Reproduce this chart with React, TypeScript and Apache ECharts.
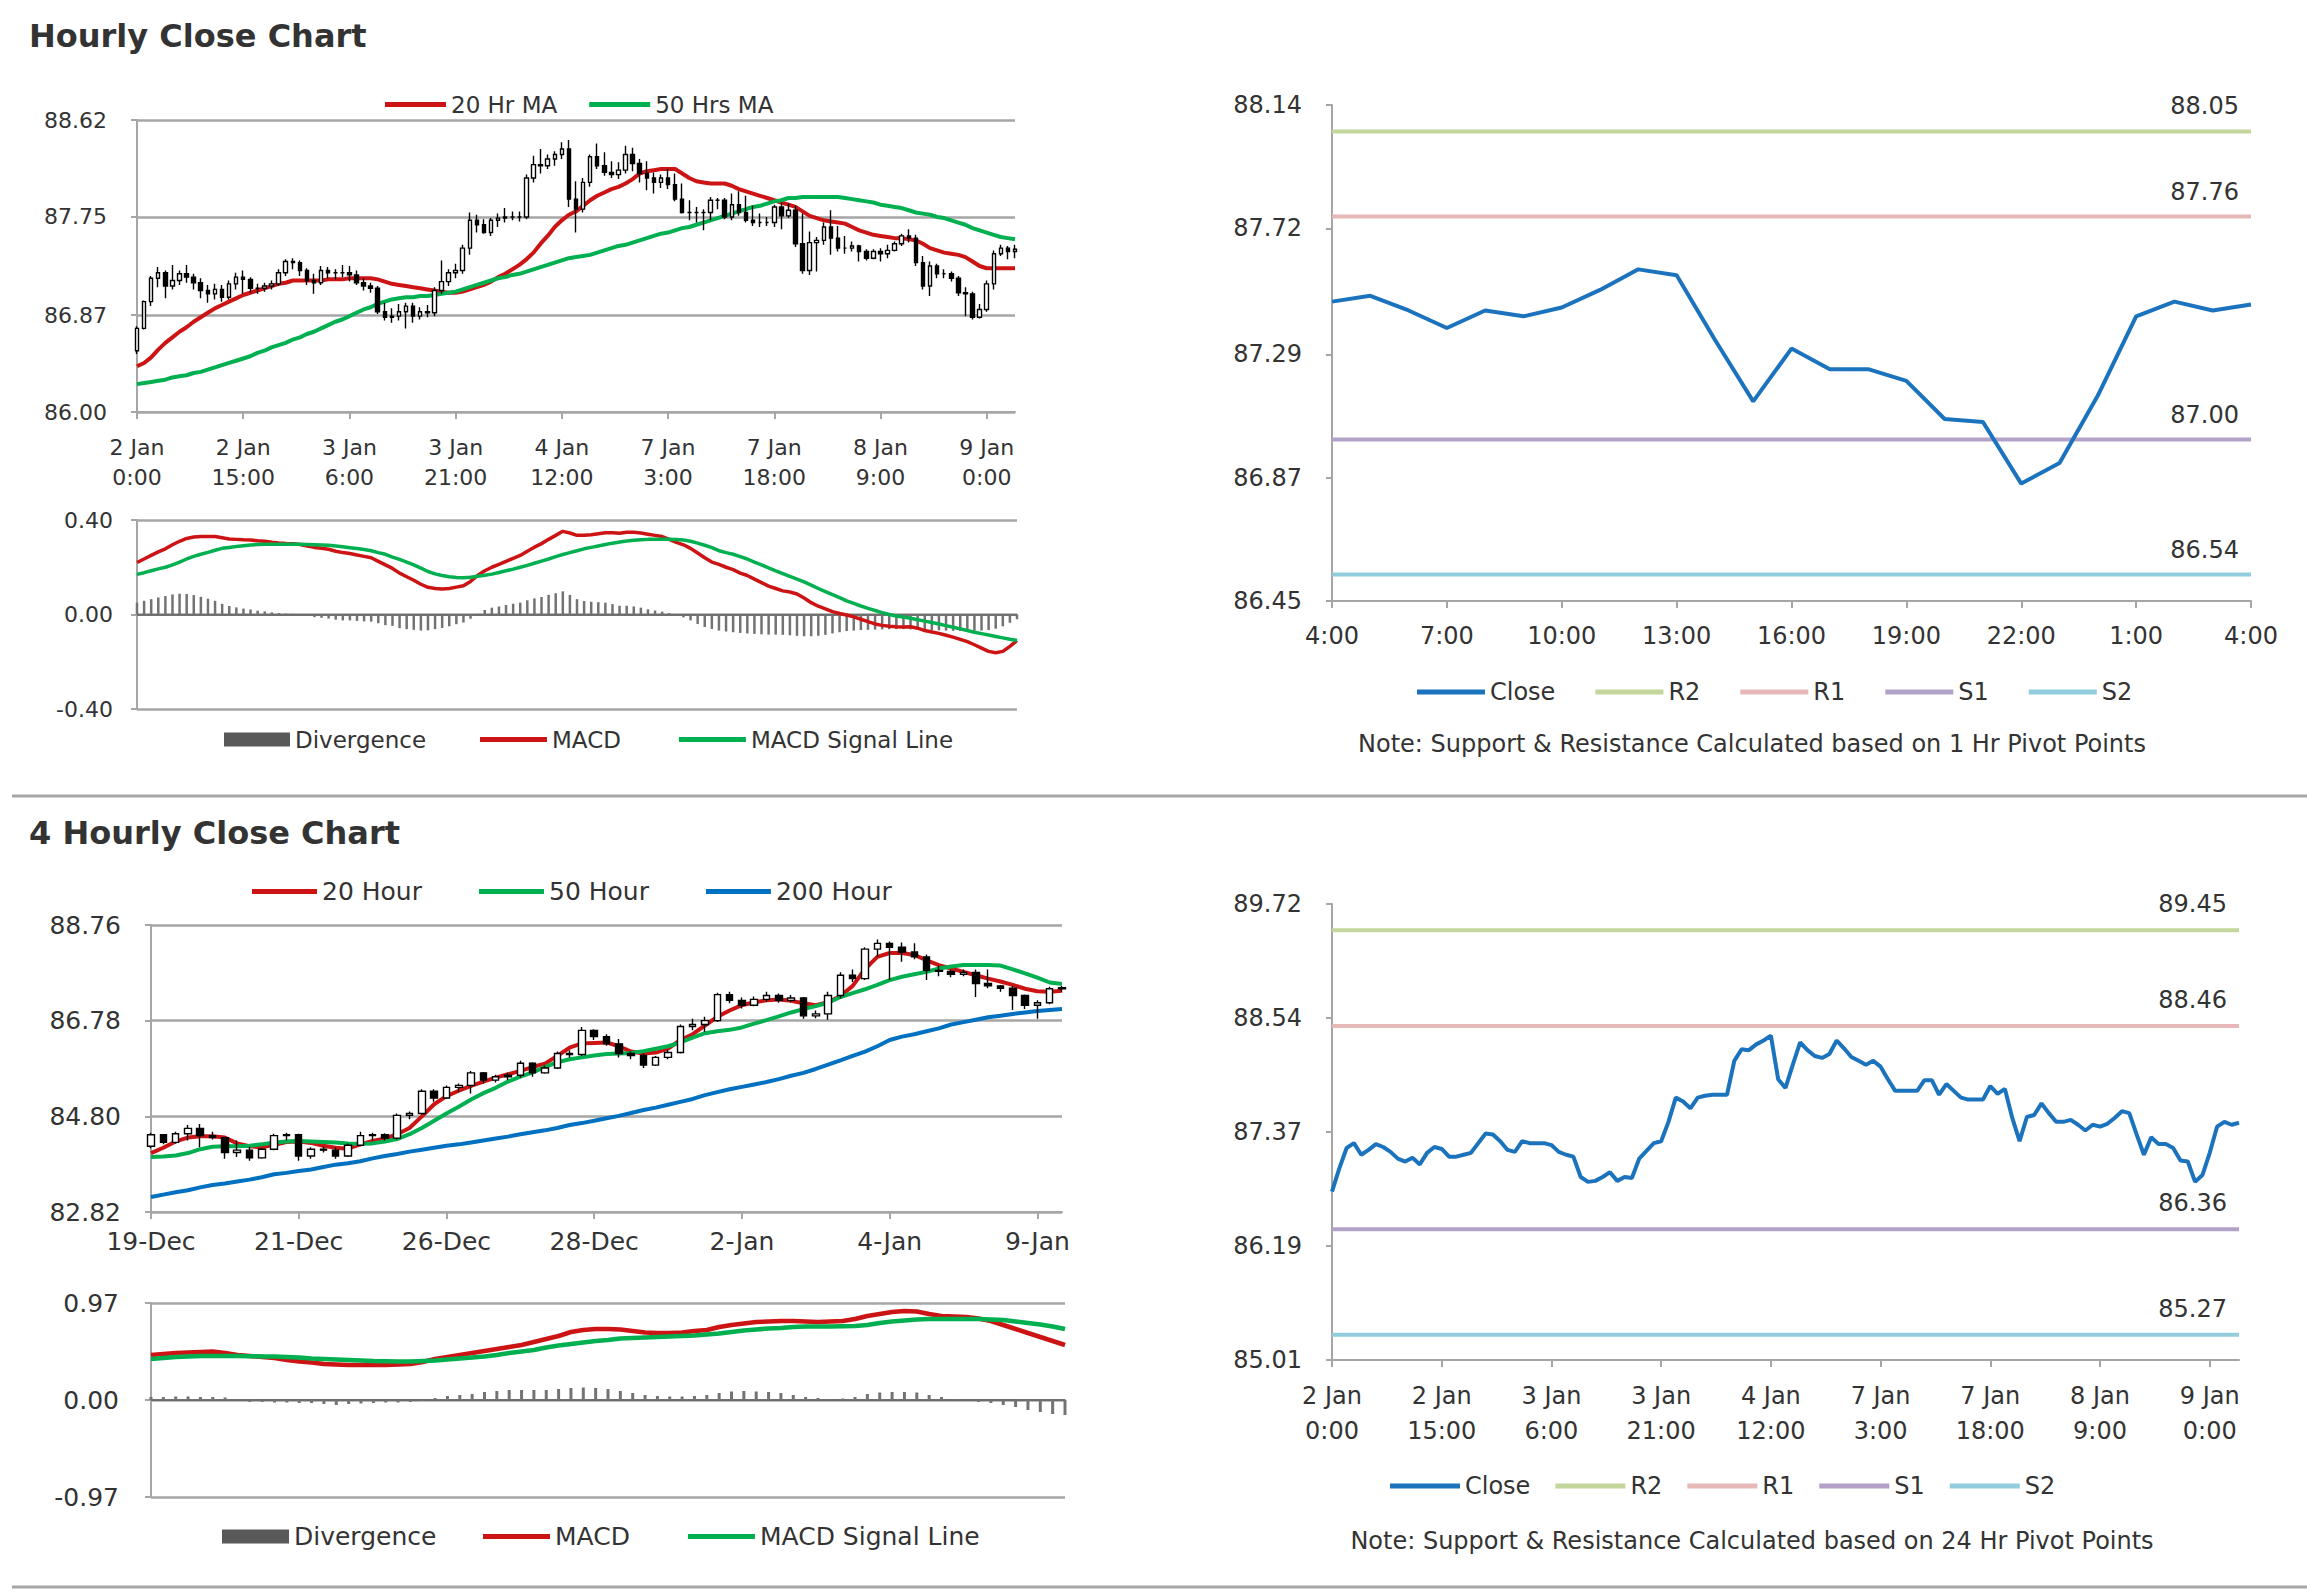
import React, { useEffect, useRef } from 'react';
import * as echarts from 'echarts';

const FONT = 'DejaVu Sans';
const TEXT = '#333333';
const GRID = '#a6a6a6';
const RED = '#cc1414';
const GREEN = '#00b050';
const BLUE = '#0070c0';
const CLOSE_BLUE = '#1c73bd';
const DIV_GRAY = '#737373';
const LEVEL_COLORS: Record<string, string> = { R2: '#c3d69b', R1: '#e6b9b8', S1: '#b3a2c7', S2: '#93cddd' };

// ---------------- Hourly data: 2 Jan 0:00 -> 9 Jan 4:00 ----------------
const hourlyDays = ['2 Jan', '3 Jan', '4 Jan', '7 Jan', '8 Jan', '9 Jan'];
const hourlyTickEvery = 15;

const hourlyOpen = [
  86.55, 86.75, 86.99, 87.20, 87.25, 87.13, 87.18, 87.24, 87.21, 87.16,
  87.09, 87.06, 87.10, 87.03, 87.15, 87.21, 87.19, 87.11, 87.11, 87.13,
  87.15, 87.25, 87.35, 87.34, 87.27, 87.18, 87.16, 87.27, 87.25, 87.25,
  87.25, 87.23, 87.16, 87.13, 87.11, 86.90, 86.85, 86.86, 86.90, 86.95,
  86.86, 86.90, 86.89, 87.09, 87.17, 87.25, 87.27, 87.47, 87.72, 87.68,
  87.61, 87.72, 87.74, 87.75, 87.75, 87.75, 88.10, 88.22, 88.21, 88.27,
  88.31, 88.36, 87.91, 87.82, 88.06, 88.29, 88.21, 88.15, 88.13, 88.17,
  88.31, 88.23, 88.14, 88.10, 88.06, 88.10, 88.04, 87.91, 87.79, 87.79,
  87.79, 87.79, 87.90, 87.90, 87.75, 87.86, 87.79, 87.72, 87.70, 87.70,
  87.70, 87.84, 87.76, 87.81, 87.51, 87.27, 87.52, 87.54, 87.66, 87.56,
  87.47, 87.47, 87.49, 87.44, 87.38, 87.44, 87.42, 87.45, 87.51, 87.58,
  87.56, 87.34, 87.13, 87.31, 87.24, 87.24, 87.20, 87.07, 87.06, 86.85,
  86.92, 87.15, 87.42, 87.47, 87.44,
];
const hourlyClose = [
  86.75, 86.99, 87.20, 87.25, 87.13, 87.18, 87.24, 87.21, 87.16, 87.09,
  87.06, 87.10, 87.03, 87.15, 87.21, 87.19, 87.11, 87.11, 87.13, 87.15,
  87.25, 87.35, 87.34, 87.27, 87.18, 87.16, 87.27, 87.25, 87.25, 87.25,
  87.23, 87.16, 87.13, 87.11, 86.90, 86.85, 86.86, 86.90, 86.95, 86.86,
  86.90, 86.89, 87.09, 87.17, 87.25, 87.27, 87.47, 87.72, 87.68, 87.61,
  87.72, 87.74, 87.75, 87.75, 87.75, 88.10, 88.22, 88.21, 88.27, 88.31,
  88.36, 87.91, 87.82, 88.06, 88.29, 88.21, 88.15, 88.13, 88.17, 88.31,
  88.23, 88.14, 88.10, 88.06, 88.10, 88.04, 87.91, 87.79, 87.79, 87.79,
  87.79, 87.90, 87.90, 87.75, 87.86, 87.79, 87.72, 87.70, 87.70, 87.70,
  87.84, 87.76, 87.81, 87.51, 87.27, 87.52, 87.54, 87.66, 87.56, 87.47,
  87.47, 87.49, 87.44, 87.38, 87.44, 87.42, 87.45, 87.51, 87.58, 87.56,
  87.34, 87.13, 87.31, 87.24, 87.24, 87.20, 87.07, 87.06, 86.85, 86.92,
  87.15, 87.42, 87.47, 87.44, 87.46,
];
const hourlyHigh = [
  86.77, 87.00, 87.22, 87.30, 87.27, 87.32, 87.27, 87.32, 87.24, 87.20,
  87.14, 87.15, 87.14, 87.18, 87.25, 87.27, 87.21, 87.15, 87.16, 87.18,
  87.28, 87.37, 87.38, 87.36, 87.29, 87.24, 87.31, 87.30, 87.28, 87.32,
  87.31, 87.27, 87.20, 87.16, 87.13, 86.98, 86.93, 86.97, 86.98, 86.98,
  86.94, 86.96, 87.12, 87.36, 87.28, 87.33, 87.50, 87.79, 87.77, 87.73,
  87.74, 87.78, 87.83, 87.80, 87.80, 88.13, 88.30, 88.36, 88.31, 88.34,
  88.42, 88.44, 88.07, 88.10, 88.31, 88.41, 88.33, 88.25, 88.24, 88.39,
  88.37, 88.27, 88.25, 88.15, 88.13, 88.18, 88.14, 88.05, 87.90, 87.84,
  87.82, 87.93, 87.92, 87.92, 87.96, 87.98, 87.94, 87.85, 87.78, 87.75,
  87.86, 87.88, 87.87, 87.85, 87.78, 87.62, 87.57, 87.70, 87.81, 87.67,
  87.58, 87.53, 87.50, 87.46, 87.46, 87.47, 87.50, 87.53, 87.60, 87.64,
  87.59, 87.40, 87.35, 87.33, 87.28, 87.26, 87.22, 87.12, 87.08, 86.97,
  87.18, 87.45, 87.50, 87.49, 87.50,
];
const hourlyLow = [
  86.52, 86.74, 86.95, 87.12, 87.02, 87.10, 87.14, 87.16, 87.10, 87.02,
  86.98, 87.01, 86.99, 87.01, 87.10, 87.06, 87.07, 87.06, 87.08, 87.10,
  87.13, 87.22, 87.28, 87.22, 87.14, 87.06, 87.14, 87.20, 87.19, 87.21,
  87.17, 87.14, 87.09, 87.07, 86.88, 86.82, 86.80, 86.82, 86.75, 86.80,
  86.83, 86.85, 86.86, 87.06, 87.13, 87.20, 87.24, 87.41, 87.61, 87.60,
  87.58, 87.66, 87.70, 87.72, 87.71, 87.73, 88.06, 88.14, 88.18, 88.21,
  88.27, 87.84, 87.61, 87.79, 88.02, 88.18, 88.12, 88.10, 88.09, 88.14,
  88.16, 88.06, 87.99, 87.96, 88.01, 88.00, 87.89, 87.78, 87.72, 87.70,
  87.63, 87.72, 87.82, 87.73, 87.72, 87.76, 87.70, 87.67, 87.66, 87.67,
  87.66, 87.64, 87.74, 87.48, 87.24, 87.23, 87.26, 87.50, 87.41, 87.44,
  87.42, 87.44, 87.35, 87.36, 87.37, 87.35, 87.38, 87.44, 87.49, 87.52,
  87.31, 87.10, 87.04, 87.20, 87.20, 87.17, 87.04, 86.86, 86.83, 86.84,
  86.90, 87.10, 87.40, 87.37, 87.38,
];
const hourlyMA20 = [
  86.41, 86.44, 86.49, 86.56, 86.62, 86.67, 86.72, 86.76, 86.81, 86.85,
  86.89, 86.93, 86.96, 86.99, 87.02, 87.05, 87.07, 87.09, 87.11, 87.13,
  87.15, 87.16, 87.18, 87.18, 87.18, 87.18, 87.18, 87.19, 87.19, 87.19,
  87.20, 87.20, 87.20, 87.20, 87.19, 87.17, 87.15, 87.14, 87.13, 87.12,
  87.11, 87.10, 87.09, 87.08, 87.07, 87.07, 87.08, 87.10, 87.12, 87.14,
  87.17, 87.21, 87.24, 87.28, 87.32, 87.37, 87.43, 87.51, 87.58, 87.66,
  87.72, 87.77, 87.80, 87.85, 87.90, 87.94, 87.97, 88.00, 88.02, 88.05,
  88.09, 88.14, 88.16, 88.17, 88.18, 88.18, 88.18, 88.14, 88.10, 88.07,
  88.06, 88.05, 88.05, 88.05, 88.03, 88.00, 87.98, 87.96, 87.94, 87.92,
  87.90, 87.88, 87.86, 87.84, 87.80, 87.76, 87.74, 87.72, 87.71, 87.70,
  87.69, 87.66, 87.63, 87.61, 87.59, 87.58, 87.57, 87.56, 87.56, 87.55,
  87.54, 87.51, 87.47, 87.45, 87.43, 87.42, 87.41, 87.39, 87.35, 87.31,
  87.29, 87.29, 87.29, 87.29, 87.29,
];
const hourlyMA50 = [
  86.25, 86.26, 86.27, 86.28, 86.29, 86.31, 86.32, 86.33, 86.35, 86.36,
  86.38, 86.40, 86.42, 86.44, 86.46, 86.48, 86.50, 86.53, 86.55, 86.58,
  86.60, 86.62, 86.65, 86.67, 86.70, 86.72, 86.75, 86.78, 86.81, 86.83,
  86.86, 86.89, 86.92, 86.94, 86.97, 86.99, 87.01, 87.02, 87.03, 87.03,
  87.04, 87.04, 87.05, 87.06, 87.07, 87.08, 87.10, 87.12, 87.14, 87.16,
  87.18, 87.20, 87.21, 87.23, 87.24, 87.26, 87.28, 87.30, 87.32, 87.34,
  87.36, 87.38, 87.39, 87.40, 87.41, 87.43, 87.45, 87.47, 87.49, 87.50,
  87.52, 87.54, 87.56, 87.58, 87.60, 87.61, 87.63, 87.65, 87.66, 87.68,
  87.70, 87.72, 87.74, 87.76, 87.78, 87.80, 87.82, 87.84, 87.85, 87.87,
  87.89, 87.90, 87.92, 87.92, 87.93, 87.93, 87.93, 87.93, 87.93, 87.93,
  87.92, 87.91, 87.90, 87.89, 87.88, 87.86, 87.85, 87.84, 87.83, 87.81,
  87.79, 87.78, 87.77, 87.75, 87.74, 87.72, 87.70, 87.68, 87.65, 87.63,
  87.61, 87.59, 87.57, 87.56, 87.55,
];
const hourlyMACD = [
  0.220, 0.235, 0.250, 0.265, 0.278, 0.295, 0.310, 0.322, 0.328, 0.330,
  0.330, 0.330, 0.325, 0.320, 0.318, 0.316, 0.315, 0.312, 0.310, 0.306,
  0.303, 0.301, 0.300, 0.296, 0.290, 0.284, 0.280, 0.276, 0.268, 0.262,
  0.258, 0.252, 0.246, 0.240, 0.225, 0.210, 0.195, 0.175, 0.160, 0.145,
  0.128, 0.115, 0.110, 0.108, 0.110, 0.116, 0.122, 0.140, 0.165, 0.185,
  0.200, 0.212, 0.225, 0.238, 0.250, 0.268, 0.285, 0.300, 0.318, 0.335,
  0.352, 0.345, 0.335, 0.335, 0.338, 0.342, 0.346, 0.346, 0.344, 0.348,
  0.348, 0.345, 0.340, 0.335, 0.330, 0.318, 0.305, 0.295, 0.280, 0.260,
  0.240, 0.222, 0.212, 0.200, 0.190, 0.175, 0.165, 0.150, 0.135, 0.120,
  0.110, 0.100, 0.095, 0.087, 0.070, 0.050, 0.035, 0.024, 0.012, 0.004,
  -0.002, -0.010, -0.020, -0.030, -0.040, -0.046, -0.050, -0.052, -0.053, -0.052,
  -0.058, -0.068, -0.074, -0.080, -0.088, -0.096, -0.105, -0.115, -0.128, -0.142,
  -0.156, -0.162, -0.156, -0.135, -0.110,
];
const hourlySignal = [
  0.170, 0.177, 0.185, 0.193, 0.200, 0.210, 0.222, 0.235, 0.246, 0.255,
  0.263, 0.272, 0.280, 0.284, 0.288, 0.291, 0.294, 0.296, 0.297, 0.297,
  0.297, 0.297, 0.297, 0.297, 0.296, 0.295, 0.294, 0.293, 0.290, 0.287,
  0.283, 0.279, 0.275, 0.270, 0.262, 0.255, 0.243, 0.233, 0.222, 0.210,
  0.196, 0.182, 0.172, 0.165, 0.160, 0.157, 0.156, 0.158, 0.162, 0.166,
  0.171, 0.178, 0.185, 0.192, 0.200, 0.208, 0.217, 0.226, 0.235, 0.245,
  0.254, 0.262, 0.270, 0.278, 0.284, 0.290, 0.296, 0.302, 0.307, 0.311,
  0.314, 0.316, 0.318, 0.318, 0.318, 0.318, 0.317, 0.315, 0.310, 0.302,
  0.293, 0.283, 0.270, 0.262, 0.255, 0.245, 0.235, 0.222, 0.210, 0.197,
  0.185, 0.173, 0.161, 0.150, 0.138, 0.124, 0.110, 0.097, 0.084, 0.071,
  0.058, 0.047, 0.036, 0.026, 0.017, 0.008, 0.000, -0.006, -0.011, -0.016,
  -0.022, -0.028, -0.034, -0.040, -0.047, -0.054, -0.061, -0.068, -0.075, -0.081,
  -0.087, -0.093, -0.099, -0.105, -0.110,
];
const hourlyDivergence = [
  0.050, 0.058, 0.065, 0.072, 0.078, 0.085, 0.088, 0.087, 0.082, 0.075,
  0.067, 0.058, 0.045, 0.036, 0.030, 0.025, 0.021, 0.016, 0.013, 0.009,
  0.006, 0.004, 0.003, -0.001, -0.006, -0.011, -0.014, -0.017, -0.022, -0.025,
  -0.025, -0.027, -0.029, -0.030, -0.037, -0.045, -0.048, -0.058, -0.062, -0.065,
  -0.068, -0.067, -0.062, -0.057, -0.050, -0.041, -0.034, -0.018, 0.003, 0.019,
  0.029, 0.034, 0.040, 0.046, 0.050, 0.060, 0.068, 0.074, 0.083, 0.090,
  0.098, 0.083, 0.065, 0.057, 0.054, 0.052, 0.050, 0.044, 0.037, 0.037,
  0.034, 0.029, 0.022, 0.017, 0.012, 0.006, 0.000, -0.012, -0.025, -0.040,
  -0.053, -0.061, -0.068, -0.072, -0.075, -0.078, -0.080, -0.082, -0.084, -0.085,
  -0.085, -0.086, -0.088, -0.090, -0.092, -0.092, -0.090, -0.086, -0.080, -0.075,
  -0.070, -0.068, -0.066, -0.065, -0.064, -0.063, -0.062, -0.062, -0.062, -0.063,
  -0.064, -0.065, -0.066, -0.067, -0.068, -0.069, -0.070, -0.070, -0.069, -0.068,
  -0.066, -0.060, -0.050, -0.035, -0.020,
];

// Pivot chart (last 24 hours: 8 Jan 4:00 -> 9 Jan 4:00)
const pivotStart = 100;
const pivotTickEvery = 3;
const pivot1h: [string, number][] = [['R2', 88.05], ['R1', 87.76], ['S1', 87.00], ['S2', 86.54]];
const pivot24h: [string, number][] = [['R2', 89.45], ['R1', 88.46], ['S1', 86.36], ['S2', 85.27]];

// Axis tick labels
const hourlyYTicks = [86.00, 86.87, 87.75, 88.62];
const hourlyMacdTicks = [-0.40, 0.00, 0.40];
const pivot1hYTicks = [86.45, 86.87, 87.29, 87.72, 88.14];
const pivot24hYTicks = [85.01, 86.19, 87.37, 88.54, 89.72];
const fourYTicks = [82.82, 84.80, 86.78, 88.76];
const fourMacdTicks = [-0.97, 0.00, 0.97];
const fourTickLabels = ['19-Dec', '21-Dec', '26-Dec', '28-Dec', '2-Jan', '4-Jan', '9-Jan'];
const fourTickEvery = 12;

// ---------------- 4-hourly data: 19 Dec -> 9 Jan ----------------
const fourOpen = [
  84.18, 84.42, 84.26, 84.44, 84.55, 84.40, 84.36, 84.05, 84.10, 83.94,
  84.12, 84.40, 84.42, 83.98, 84.12, 84.10, 83.98, 84.20, 84.40, 84.42,
  84.35, 84.82, 84.86, 85.32, 85.18, 85.40, 85.44, 85.70, 85.55, 85.62,
  85.65, 85.90, 85.70, 85.80, 86.10, 86.08, 86.58, 86.45, 86.30, 86.10,
  86.06, 85.86, 86.02, 86.12, 86.66, 86.70, 86.78, 87.32, 87.20, 87.10,
  87.22, 87.30, 87.20, 87.25, 86.88, 86.92, 87.30, 87.72, 87.65, 88.26,
  88.38, 88.30, 88.20, 88.10, 87.82, 87.80, 87.74, 87.78, 87.55, 87.50,
  87.45, 87.30, 87.10, 87.15, 87.44,
];
const fourHigh = [
  84.46, 84.42, 84.48, 84.62, 84.64, 84.48, 84.38, 84.30, 84.16, 84.14,
  84.44, 84.46, 84.44, 84.16, 84.17, 84.16, 84.24, 84.48, 84.46, 84.45,
  84.86, 84.90, 85.36, 85.36, 85.44, 85.48, 85.74, 85.72, 85.66, 85.70,
  85.95, 85.92, 85.85, 86.14, 86.16, 86.65, 86.60, 86.50, 86.40, 86.14,
  86.10, 86.05, 86.18, 86.70, 86.82, 86.86, 87.36, 87.38, 87.26, 87.28,
  87.38, 87.34, 87.31, 87.27, 86.99, 87.38, 87.78, 87.84, 88.30, 88.46,
  88.42, 88.40, 88.38, 88.15, 87.92, 87.84, 87.84, 87.84, 87.84, 87.52,
  87.50, 87.32, 87.20, 87.48, 87.50,
];
const fourLow = [
  84.14, 84.22, 84.24, 84.30, 84.16, 84.32, 83.92, 83.96, 83.88, 83.92,
  84.10, 84.30, 83.88, 83.92, 84.05, 83.92, 83.96, 84.18, 84.30, 84.30,
  84.32, 84.74, 84.84, 85.10, 85.16, 85.30, 85.27, 85.48, 85.50, 85.55,
  85.60, 85.62, 85.68, 85.78, 86.02, 86.05, 86.38, 86.26, 86.02, 85.98,
  85.80, 85.84, 85.98, 86.10, 86.58, 86.55, 86.75, 87.14, 87.03, 87.08,
  87.17, 87.15, 87.16, 86.82, 86.83, 86.80, 87.24, 87.58, 87.62, 88.10,
  87.62, 88.00, 88.05, 87.62, 87.70, 87.68, 87.70, 87.27, 87.45, 87.38,
  87.00, 87.02, 86.82, 87.12, 87.38,
];
const fourClose = [
  84.42, 84.26, 84.44, 84.55, 84.40, 84.36, 84.05, 84.10, 83.94, 84.12,
  84.40, 84.42, 83.98, 84.12, 84.10, 83.98, 84.20, 84.40, 84.42, 84.35,
  84.82, 84.86, 85.32, 85.18, 85.40, 85.44, 85.70, 85.55, 85.62, 85.65,
  85.90, 85.70, 85.80, 86.10, 86.08, 86.58, 86.45, 86.30, 86.10, 86.06,
  85.86, 86.02, 86.12, 86.66, 86.70, 86.78, 87.32, 87.20, 87.10, 87.22,
  87.30, 87.20, 87.25, 86.88, 86.92, 87.30, 87.72, 87.65, 88.26, 88.38,
  88.30, 88.20, 88.10, 87.82, 87.80, 87.74, 87.78, 87.55, 87.50, 87.45,
  87.30, 87.10, 87.15, 87.44, 87.46,
];
const fourMA20 = [
  84.04, 84.15, 84.28, 84.36, 84.39, 84.39, 84.36, 84.24, 84.18, 84.16,
  84.21, 84.27, 84.28, 84.25, 84.19, 84.15, 84.13, 84.22, 84.29, 84.34,
  84.43, 84.56, 84.80, 85.05, 85.22, 85.33, 85.43, 85.52, 85.60, 85.67,
  85.74, 85.82, 85.89, 86.05, 86.22, 86.31, 86.32, 86.33, 86.25, 86.14,
  86.10, 86.12, 86.20, 86.38, 86.50, 86.68, 86.86, 86.99, 87.10, 87.16,
  87.20, 87.22, 87.19, 87.14, 87.10, 87.16, 87.29, 87.50, 87.85, 88.10,
  88.18, 88.18, 88.14, 88.03, 87.93, 87.86, 87.79, 87.72, 87.65, 87.59,
  87.52, 87.44, 87.39, 87.38, 87.40,
];
const fourMA50 = [
  83.96, 83.97, 83.99, 84.04, 84.12, 84.17, 84.18, 84.18, 84.19, 84.22,
  84.26, 84.28, 84.29, 84.28, 84.27, 84.26, 84.24, 84.23, 84.24, 84.28,
  84.33, 84.43, 84.56, 84.71, 84.86, 85.00, 85.15, 85.28, 85.39, 85.52,
  85.62, 85.71, 85.82, 85.92, 85.98, 86.02, 86.06, 86.09, 86.10, 86.11,
  86.15, 86.20, 86.25, 86.33, 86.43, 86.52, 86.56, 86.59, 86.64, 86.72,
  86.79, 86.87, 86.95, 87.02, 87.08, 87.15, 87.27, 87.35, 87.43, 87.52,
  87.62, 87.69, 87.74, 87.79, 87.86, 87.90, 87.93, 87.93, 87.93, 87.92,
  87.84, 87.76, 87.67, 87.57, 87.54,
];
const fourMA200 = [
  83.13, 83.18, 83.23, 83.27, 83.33, 83.38, 83.41, 83.45, 83.49, 83.54,
  83.60, 83.63, 83.67, 83.70, 83.75, 83.80, 83.83, 83.87, 83.93, 83.98,
  84.02, 84.07, 84.11, 84.15, 84.19, 84.22, 84.26, 84.30, 84.34, 84.38,
  84.43, 84.47, 84.51, 84.56, 84.62, 84.66, 84.71, 84.76, 84.81, 84.87,
  84.93, 84.98, 85.04, 85.10, 85.16, 85.24, 85.30, 85.36, 85.41, 85.46,
  85.51, 85.57, 85.64, 85.70, 85.78, 85.87, 85.96, 86.05, 86.14, 86.25,
  86.38, 86.45, 86.50, 86.56, 86.62, 86.70, 86.75, 86.80, 86.85, 86.88,
  86.92, 86.95, 86.98, 87.00, 87.02,
];
const fourMACD = [
  0.45, 0.46, 0.47, 0.475, 0.48, 0.485, 0.47, 0.45, 0.44, 0.43,
  0.42, 0.40, 0.385, 0.375, 0.36, 0.355, 0.35, 0.35, 0.35, 0.35,
  0.355, 0.36, 0.38, 0.41, 0.43, 0.45, 0.47, 0.49, 0.51, 0.53,
  0.55, 0.58, 0.61, 0.64, 0.68, 0.70, 0.71, 0.71, 0.705, 0.69,
  0.675, 0.67, 0.67, 0.675, 0.69, 0.70, 0.73, 0.75, 0.765, 0.78,
  0.785, 0.79, 0.79, 0.785, 0.78, 0.785, 0.79, 0.81, 0.84, 0.86,
  0.88, 0.89, 0.885, 0.86, 0.84, 0.835, 0.83, 0.815, 0.79, 0.75,
  0.71, 0.67, 0.63, 0.59, 0.55,
];
const fourSignal = [
  0.41, 0.42, 0.43, 0.435, 0.44, 0.44, 0.44, 0.44, 0.438, 0.436,
  0.435, 0.43, 0.425, 0.415, 0.41, 0.405, 0.40, 0.395, 0.39, 0.388,
  0.385, 0.385, 0.39, 0.395, 0.405, 0.415, 0.425, 0.435, 0.45, 0.47,
  0.485, 0.50, 0.525, 0.545, 0.56, 0.575, 0.59, 0.60, 0.615, 0.62,
  0.625, 0.63, 0.635, 0.64, 0.645, 0.655, 0.665, 0.68, 0.695, 0.705,
  0.715, 0.72, 0.73, 0.735, 0.735, 0.735, 0.738, 0.74, 0.75, 0.77,
  0.785, 0.795, 0.805, 0.81, 0.81, 0.81, 0.81, 0.81, 0.805, 0.80,
  0.785, 0.77, 0.755, 0.735, 0.71,
];
const fourDivergence = [
  0.03, 0.03, 0.035, 0.035, 0.03, 0.03, 0.025, 0.0, -0.02, -0.02,
  -0.025, -0.025, -0.03, -0.03, -0.04, -0.05, -0.04, -0.035, -0.03, -0.025,
  -0.025, -0.02, -0.01, 0.02, 0.04, 0.05, 0.06, 0.08, 0.09, 0.10,
  0.10, 0.10, 0.10, 0.11, 0.12, 0.125, 0.12, 0.11, 0.09, 0.07,
  0.05, 0.04, 0.035, 0.035, 0.04, 0.05, 0.07, 0.085, 0.09, 0.085,
  0.08, 0.07, 0.05, 0.03, 0.02, 0.01, 0.015, 0.03, 0.06, 0.075,
  0.08, 0.08, 0.075, 0.05, 0.03, 0.01, 0.0, -0.02, -0.03, -0.05,
  -0.07, -0.10, -0.12, -0.14, -0.15,
];

// ---------------- categories ----------------
const hourlyCategories: string[] = hourlyDays
  .flatMap((d) => Array.from({ length: 24 }, (_, h) => `${d} ${h}:00`))
  .slice(0, hourlyClose.length);
const pivotCategories = hourlyCategories.slice(pivotStart);
const pivotClose = hourlyClose.slice(pivotStart);
const fourCategories = fourClose.map((_, k) => `P${k}`);

// ---------------- helpers ----------------
const txt = (size: number) => ({ fontSize: size, color: TEXT, fontFamily: FONT });

function valueAxis(gridIndex: number, ticks: number[], size: number, margin: number, split: boolean) {
  return {
    type: 'value',
    gridIndex,
    min: ticks[0],
    max: ticks[ticks.length - 1],
    axisLine: { show: true, lineStyle: { color: GRID, width: 2 } },
    axisTick: { show: true, length: 6, customValues: ticks, lineStyle: { color: GRID, width: 2 } },
    axisLabel: { customValues: ticks, formatter: (v: number) => v.toFixed(2), margin, ...txt(size) },
    splitLine: { show: split, lineStyle: { color: GRID, width: 2.5 } },
  };
}

function catAxis(gridIndex: number, data: string[], every: number, size: number, margin: number, lineHeight: number, formatter: any) {
  return {
    type: 'category',
    gridIndex,
    data,
    boundaryGap: false,
    axisLine: { show: true, lineStyle: { color: GRID, width: 2 } },
    axisTick: { show: true, interval: every - 1, length: 7, lineStyle: { color: GRID, width: 2 } },
    axisLabel: { interval: every - 1, formatter, margin, lineHeight, ...txt(size) },
    splitLine: { show: false },
  };
}

function zeroAxis(gridIndex: number, data: string[]) {
  return {
    type: 'category',
    gridIndex,
    data,
    boundaryGap: false,
    axisLine: { show: true, onZero: true, lineStyle: { color: '#595959', width: 1.5 } },
    axisTick: { show: false },
    axisLabel: { show: false },
    splitLine: { show: false },
  };
}

const line = (name: string, data: number[], color: string, width: number, axis: number, z = 3) => ({
  type: 'line',
  name,
  data,
  xAxisIndex: axis,
  yAxisIndex: axis,
  showSymbol: false,
  symbol: 'none',
  lineStyle: { color, width },
  itemStyle: { color },
  emphasis: { disabled: true },
  silent: true,
  z,
});

const candle = (name: string, o: number[], c: number[], l: number[], h: number[], axis: number, barWidth: number) => ({
  type: 'candlestick',
  name,
  data: o.map((v, i) => [v, c[i], l[i], h[i]]),
  xAxisIndex: axis,
  yAxisIndex: axis,
  barWidth,
  clip: false,
  itemStyle: {
    color: '#ffffff',
    color0: '#000000',
    borderColor: '#000000',
    borderColor0: '#000000',
    borderColorDoji: '#000000',
    borderWidth: 1.4,
  },
  emphasis: { disabled: true },
  silent: true,
  z: 4,
});

const bars = (data: number[], axis: number, width: number) => ({
  type: 'bar',
  name: 'Divergence',
  data,
  xAxisIndex: axis,
  yAxisIndex: axis,
  barWidth: width,
  itemStyle: { color: DIV_GRAY },
  emphasis: { disabled: true },
  silent: true,
  z: 2,
});

const levelSeries = (levels: [string, number][], n: number, axis: number) =>
  levels.map(([name, v]) => line(name, new Array(n).fill(v), LEVEL_COLORS[name], 4, axis, 2));

const legend = (data: any[], left: number, top: number, iw: number, ih: number, gap: number, size: number) => ({
  data,
  left,
  top,
  padding: 0,
  itemWidth: iw,
  itemHeight: ih,
  itemGap: gap,
  icon: 'rect',
  selectedMode: false,
  textStyle: { ...txt(size), padding: [0, 0, 0, 0] },
});

function buildOption() {
  const hourlyFmt = (v: string) => v.replace(/ (\d{1,2}:00)$/, '\n$1');
  const pivotFmt = (v: string) => v.split(' ')[2];
  const fourFmt = (_v: string, i: number) => (i % fourTickEvery === 0 ? fourTickLabels[i / fourTickEvery] : '');
  return {
    animation: false,
    backgroundColor: '#ffffff',
    textStyle: { fontFamily: FONT },
    grid: [
      { left: 137, top: 120, width: 878, height: 292 },
      { left: 137, top: 520, width: 880, height: 189 },
      { left: 1332, top: 105, width: 919, height: 496 },
      { left: 151, top: 925, width: 911, height: 287 },
      { left: 151, top: 1303, width: 914, height: 194 },
      { left: 1332, top: 904, width: 907, height: 456 },
    ],
    xAxis: [
      catAxis(0, hourlyCategories, hourlyTickEvery, 22, 20, 30, hourlyFmt),
      zeroAxis(1, hourlyCategories),
      catAxis(2, pivotCategories, pivotTickEvery, 24, 21, 28, pivotFmt),
      catAxis(3, fourCategories, fourTickEvery, 25, 15, 28, fourFmt),
      zeroAxis(4, fourCategories),
      catAxis(5, hourlyCategories, hourlyTickEvery, 24, 18, 35, hourlyFmt),
    ],
    yAxis: [
      valueAxis(0, hourlyYTicks, 22, 30, true),
      valueAxis(1, hourlyMacdTicks, 22, 24, true),
      valueAxis(2, pivot1hYTicks, 24, 30, false),
      valueAxis(3, fourYTicks, 25, 30, true),
      valueAxis(4, fourMacdTicks, 25, 32, true),
      valueAxis(5, pivot24hYTicks, 24, 30, false),
    ],
    legend: [
      legend(['20 Hr MA', '50 Hrs MA'], 385, 93, 61, 5, 32, 23),
      legend([{ name: 'Divergence', itemStyle: { color: '#595959' } }], 224, 728, 66, 14, 10, 23),
      legend(['MACD', 'MACD Signal Line'], 480, 728, 67, 5, 58, 23),
      legend(['Close', 'R2', 'R1', 'S1', 'S2'], 1417, 680, 68, 5, 40, 24),
      legend(['20 Hour', '50 Hour', '200 Hour'], 252, 879, 65, 5, 57, 25),
      legend([{ name: 'Divergence', itemStyle: { color: '#595959' } }], 222, 1524, 67, 14, 10, 25),
      legend(['MACD', 'MACD Signal Line'], 483, 1524, 67, 5, 58, 25),
      legend(['Close', 'R2', 'R1', 'S1', 'S2'], 1390, 1474, 70, 5, 25, 24),
    ],
    series: [
      // Hourly candles + MAs
      line('20 Hr MA', hourlyMA20, RED, 4, 0),
      line('50 Hrs MA', hourlyMA50, GREEN, 4, 0),
      candle('Hourly', hourlyOpen, hourlyClose, hourlyLow, hourlyHigh, 0, 4),
      // Hourly MACD
      bars(hourlyDivergence, 1, 2.5),
      line('MACD', hourlyMACD, RED, 3.5, 1),
      line('MACD Signal Line', hourlySignal, GREEN, 3.5, 1),
      // 1 hr pivot chart
      ...levelSeries(pivot1h, pivotClose.length, 2),
      line('Close', pivotClose, CLOSE_BLUE, 4, 2, 5),
      // 4 hourly candles + MAs
      line('20 Hour', fourMA20, RED, 4, 3),
      line('50 Hour', fourMA50, GREEN, 4, 3),
      line('200 Hour', fourMA200, BLUE, 4, 3),
      candle('4 Hourly', fourOpen, fourClose, fourLow, fourHigh, 3, 7),
      // 4 hourly MACD
      bars(fourDivergence, 4, 3),
      line('MACD', fourMACD, RED, 4.5, 4),
      line('MACD Signal Line', fourSignal, GREEN, 4.5, 4),
      // 24 hr pivot chart
      ...levelSeries(pivot24h, hourlyClose.length, 5),
      line('Close', hourlyClose, CLOSE_BLUE, 4, 5, 5),
    ],
  };
}

function buildGraphics(chart: any) {
  const text = (t: string, x: number, y: number, size: number, align: string, bold = false) => ({
    type: 'text',
    x,
    y,
    silent: true,
    style: {
      text: t,
      fontSize: size,
      fontFamily: FONT,
      fontWeight: bold ? 'bold' : 'normal',
      fill: TEXT,
      align,
      verticalAlign: 'middle',
    },
  });
  const sep = (y: number) => ({
    type: 'line',
    silent: true,
    shape: { x1: 12, y1: y, x2: 2307, y2: y },
    style: { stroke: '#a6a6a6', lineWidth: 3 },
  });
  const levelLabels = (gridIndex: number, levels: [string, number][], lastIndex: number, dy: number) =>
    levels.map(([, v]) => {
      const p = chart.convertToPixel({ gridIndex }, [lastIndex, v]);
      return text(v.toFixed(2), p[0] - 12, p[1] - dy, 24, 'right');
    });
  return [
    text('Hourly Close Chart', 29, 36, 32, 'left', true),
    text('4 Hourly Close Chart', 29, 833, 32, 'left', true),
    sep(796),
    sep(1587),
    text('Note: Support & Resistance Calculated based on 1 Hr Pivot Points', 1752, 744, 24, 'center'),
    text('Note: Support & Resistance Calculated based on 24 Hr Pivot Points', 1752, 1541, 24, 'center'),
    ...levelLabels(2, pivot1h, pivotClose.length - 1, 25),
    ...levelLabels(5, pivot24h, hourlyClose.length - 1, 26),
  ];
}

export default function App() {
  const ref = useRef<HTMLDivElement>(null);
  useEffect(() => {
    if (!ref.current) return;
    const chart = echarts.init(ref.current, null, { renderer: 'svg' });
    chart.setOption(buildOption() as any);
    chart.setOption({ graphic: buildGraphics(chart) } as any);
    return () => chart.dispose();
  }, []);
  return (
    <div
      ref={ref}
      style={{ position: 'absolute', left: 0, top: 0, width: 2307, height: 1592, background: '#ffffff' }}
    />
  );
}
